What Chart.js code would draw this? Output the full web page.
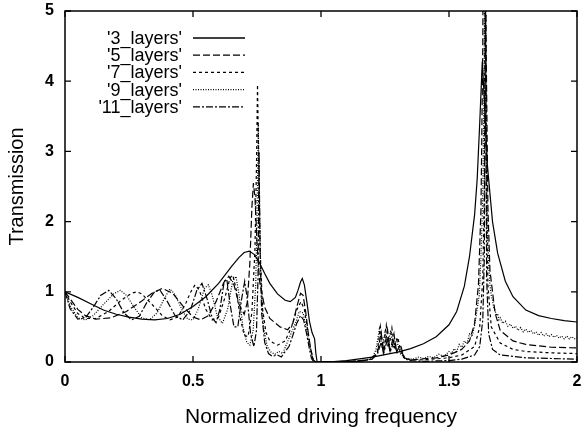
<!DOCTYPE html>
<html>
<head>
<meta charset="utf-8">
<script src="https://cdn.jsdelivr.net/npm/chart.js@4.4.1/dist/chart.umd.min.js"></script>
<style>
  html, body { margin: 0; padding: 0; background: #fff; }
  #wrap { width: 582px; height: 435px; }
</style>
</head>
<body>
<div id="wrap"><canvas id="transmissionChart"></canvas></div>
<script>
// tick positions for both axes
const xTicks = [0, 0.5, 1, 1.5, 2];
const yTicks = [0, 1, 2, 3, 4, 5];

const seriesNames = ["'3_layers'", "'5_layers'", "'7_layers'", "'9_layers'", "'11_layers'"];

// [frequency, transmission]
const layers3 = [[0,1.0],[0.05,0.92],[0.1,0.83],[0.15,0.74],[0.2,0.68],[0.25,0.64],[0.3,0.61],[0.35,0.60],[0.4,0.62],[0.45,0.68],[0.5,0.79],[0.55,0.93],[0.6,1.12],[0.65,1.36],[0.68,1.49],[0.7,1.56],[0.72,1.58],[0.74,1.53],[0.76,1.41],[0.78,1.26],[0.8,1.12],[0.83,0.97],[0.86,0.88],[0.88,0.86],[0.9,0.92],[0.91,1.02],[0.92,1.14],[0.927,1.19],[0.935,1.1],[0.945,0.85],[0.955,0.58],[0.965,0.42],[0.975,0.33],[0.98,0.12],[0.985,0.0],[1.0,0.0],[1.05,0.005],[1.1,0.02],[1.2,0.07],[1.3,0.14],[1.35,0.19],[1.4,0.26],[1.45,0.36],[1.5,0.53],[1.53,0.72],[1.56,1.08],[1.58,1.5],[1.6,2.1],[1.61,2.6],[1.62,3.4],[1.63,4.28],[1.64,3.6],[1.65,2.8],[1.67,2.0],[1.69,1.55],[1.72,1.15],[1.75,0.93],[1.8,0.74],[1.85,0.66],[1.9,0.62],[1.95,0.59],[2.0,0.57]];

const layers5 = [[0,1.0],[0.02,0.9],[0.05,0.75],[0.08,0.66],[0.12,0.61],[0.18,0.63],[0.24,0.72],[0.3,0.87],[0.34,0.98],[0.38,1.05],[0.42,0.98],[0.46,0.8],[0.5,0.64],[0.53,0.6],[0.56,0.66],[0.59,0.86],[0.62,1.13],[0.64,1.22],[0.66,1.1],[0.68,0.82],[0.7,0.68],[0.712,0.85],[0.722,1.4],[0.73,2.2],[0.736,2.55],[0.742,2.35],[0.75,1.7],[0.76,1.15],[0.78,0.78],[0.8,0.62],[0.84,0.5],[0.87,0.46],[0.89,0.55],[0.905,0.78],[0.92,0.98],[0.93,0.95],[0.94,0.72],[0.95,0.42],[0.96,0.18],[0.97,0.03],[0.98,0.0],[1.15,0.01],[1.2,0.04],[1.22,0.12],[1.235,0.42],[1.245,0.14],[1.26,0.46],[1.27,0.16],[1.285,0.4],[1.295,0.14],[1.31,0.25],[1.325,0.06],[1.35,0.03],[1.45,0.06],[1.5,0.1],[1.55,0.18],[1.58,0.3],[1.6,0.55],[1.615,1.1],[1.625,2.2],[1.632,4.5],[1.638,10],[1.645,4.5],[1.652,2.2],[1.66,1.3],[1.68,0.7],[1.7,0.45],[1.75,0.3],[1.8,0.25],[1.9,0.21],[2.0,0.2]];

const layers7 = [[0,1.0],[0.02,0.86],[0.05,0.69],[0.08,0.62],[0.12,0.62],[0.17,0.72],[0.22,0.88],[0.26,0.98],[0.28,1.0],[0.3,0.97],[0.34,0.82],[0.38,0.66],[0.41,0.6],[0.44,0.64],[0.47,0.82],[0.49,0.99],[0.508,1.1],[0.525,1.02],[0.55,0.75],[0.575,0.6],[0.6,0.64],[0.625,0.92],[0.645,1.2],[0.655,1.24],[0.668,1.05],[0.685,0.62],[0.7,0.38],[0.715,0.36],[0.73,0.7],[0.742,1.6],[0.748,2.8],[0.752,3.95],[0.756,3.0],[0.762,1.6],[0.772,0.75],[0.785,0.42],[0.8,0.3],[0.83,0.24],[0.86,0.3],[0.885,0.5],[0.905,0.74],[0.922,0.86],[0.935,0.75],[0.948,0.45],[0.958,0.22],[0.968,0.05],[0.978,0.0],[1.15,0.01],[1.2,0.04],[1.22,0.15],[1.232,0.5],[1.242,0.18],[1.255,0.52],[1.265,0.2],[1.277,0.48],[1.288,0.18],[1.3,0.35],[1.315,0.1],[1.33,0.04],[1.4,0.03],[1.5,0.06],[1.55,0.1],[1.6,0.22],[1.62,0.5],[1.632,1.2],[1.638,2.5],[1.642,5.8],[1.646,2.5],[1.652,1.1],[1.665,0.5],[1.7,0.27],[1.75,0.18],[1.8,0.15],[1.9,0.13],[2.0,0.12]];

const layers9 = [[0,1.0],[0.02,0.8],[0.05,0.63],[0.08,0.6],[0.11,0.66],[0.15,0.82],[0.19,0.97],[0.216,1.02],[0.24,0.95],[0.27,0.78],[0.3,0.63],[0.33,0.6],[0.36,0.7],[0.39,0.92],[0.41,1.04],[0.43,0.96],[0.46,0.72],[0.48,0.61],[0.5,0.6],[0.52,0.75],[0.545,1.05],[0.56,1.1],[0.575,0.95],[0.595,0.65],[0.615,0.55],[0.635,0.75],[0.655,1.15],[0.668,1.22],[0.68,0.95],[0.695,0.5],[0.71,0.28],[0.722,0.24],[0.735,0.45],[0.745,1.1],[0.75,2.0],[0.755,3.4],[0.759,2.4],[0.765,1.2],[0.775,0.5],[0.79,0.22],[0.805,0.14],[0.82,0.11],[0.835,0.15],[0.85,0.12],[0.865,0.25],[0.88,0.38],[0.9,0.55],[0.915,0.72],[0.93,0.7],[0.942,0.48],[0.952,0.3],[0.962,0.12],[0.972,0.0],[1.15,0.01],[1.2,0.05],[1.215,0.18],[1.228,0.47],[1.238,0.2],[1.25,0.42],[1.26,0.22],[1.272,0.45],[1.282,0.2],[1.295,0.32],[1.31,0.12],[1.33,0.05],[1.36,0.04],[1.38,0.07],[1.4,0.05],[1.42,0.08],[1.44,0.06],[1.46,0.11],[1.48,0.08],[1.5,0.15],[1.51,0.12],[1.52,0.19],[1.53,0.15],[1.54,0.25],[1.55,0.21],[1.56,0.3],[1.57,0.26],[1.58,0.4],[1.59,0.36],[1.6,0.52],[1.61,0.75],[1.618,0.95],[1.625,1.5],[1.632,2.4],[1.637,4.0],[1.641,6.5],[1.645,3.5],[1.65,1.9],[1.655,1.4],[1.66,1.1],[1.665,0.95],[1.67,0.88],[1.675,0.76],[1.68,0.74],[1.685,0.66],[1.69,0.69],[1.695,0.6],[1.7,0.63],[1.71,0.55],[1.72,0.58],[1.73,0.51],[1.74,0.54],[1.75,0.48],[1.76,0.51],[1.77,0.45],[1.78,0.49],[1.79,0.43],[1.8,0.47],[1.81,0.42],[1.82,0.45],[1.83,0.4],[1.84,0.43],[1.85,0.38],[1.86,0.42],[1.87,0.37],[1.88,0.4],[1.89,0.36],[1.9,0.39],[1.91,0.35],[1.92,0.38],[1.93,0.34],[1.94,0.37],[1.95,0.33],[1.96,0.37],[1.97,0.33],[1.98,0.36],[1.99,0.33],[2.0,0.35]];

const layers11 = [[0,1.0],[0.02,0.76],[0.05,0.61],[0.08,0.63],[0.11,0.78],[0.14,0.95],[0.171,1.02],[0.2,0.9],[0.23,0.7],[0.26,0.6],[0.29,0.65],[0.32,0.85],[0.35,1.0],[0.37,1.03],[0.4,0.86],[0.43,0.66],[0.46,0.6],[0.49,0.74],[0.515,1.02],[0.535,1.12],[0.555,0.9],[0.575,0.63],[0.59,0.56],[0.605,0.75],[0.622,1.15],[0.632,1.18],[0.645,0.82],[0.66,0.5],[0.675,0.5],[0.69,0.9],[0.702,1.15],[0.712,0.9],[0.725,0.4],[0.738,0.22],[0.748,0.45],[0.754,1.2],[0.758,3.0],[0.762,1.6],[0.768,0.7],[0.78,0.28],[0.795,0.12],[0.81,0.08],[0.83,0.1],[0.845,0.07],[0.86,0.15],[0.875,0.22],[0.89,0.38],[0.905,0.55],[0.92,0.66],[0.932,0.6],[0.944,0.4],[0.954,0.2],[0.963,0.05],[0.972,0.0],[1.12,0.01],[1.18,0.03],[1.2,0.07],[1.22,0.11],[1.235,0.28],[1.245,0.13],[1.26,0.33],[1.27,0.14],[1.285,0.3],[1.297,0.13],[1.31,0.18],[1.325,0.07],[1.34,0.02],[1.4,0.01],[1.5,0.02],[1.55,0.04],[1.6,0.1],[1.62,0.22],[1.632,0.6],[1.638,1.5],[1.642,5.5],[1.647,1.2],[1.655,0.4],[1.67,0.18],[1.7,0.1],[1.8,0.06],[1.9,0.05],[2.0,0.04]];

const seriesData = [layers3, layers5, layers7, layers9, layers11];
const seriesDash = [[], [7, 3], [3, 3], [1, 1.5], [7, 2, 2, 2]];

const FONT = "'Liberation Sans', Arial, Helvetica, sans-serif";

// gnuplot style frame, inward ticks and key
const framePlugin = {
  id: 'frame',
  afterDatasetsDraw(chart) {
    const { ctx, chartArea: a, scales } = chart;
    ctx.save();
    ctx.strokeStyle = '#000';
    ctx.lineWidth = 1.5;
    ctx.setLineDash([]);
    ctx.strokeRect(a.left, a.top, a.right - a.left, a.bottom - a.top);
    ctx.lineWidth = 1.3;
    const len = 6;
    ctx.beginPath();
    xTicks.forEach(v => {
      const px = scales.x.getPixelForValue(v);
      ctx.moveTo(px, a.bottom); ctx.lineTo(px, a.bottom - len);
      ctx.moveTo(px, a.top); ctx.lineTo(px, a.top + len);
    });
    yTicks.forEach(v => {
      const py = scales.y.getPixelForValue(v);
      ctx.moveTo(a.left, py); ctx.lineTo(a.left + len, py);
      ctx.moveTo(a.right, py); ctx.lineTo(a.right - len, py);
    });
    ctx.stroke();

    // key
    ctx.font = '18px ' + FONT;
    ctx.fillStyle = '#000';
    ctx.textAlign = 'right';
    ctx.textBaseline = 'middle';
    chart.data.datasets.forEach((ds, i) => {
      const y = 38 + i * 17.2;
      ctx.fillText(ds.label, 182, y + 1);
      ctx.beginPath();
      ctx.lineWidth = 1.3;
      ctx.setLineDash(ds.borderDash);
      ctx.moveTo(193, y);
      ctx.lineTo(245, y);
      ctx.stroke();
    });
    ctx.restore();
  }
};

new Chart(document.getElementById('transmissionChart'), {
  type: 'scatter',
  data: {
    datasets: seriesNames.map((name, i) => ({
      label: name,
      data: seriesData[i].map(p => ({ x: p[0], y: p[1] })),
      showLine: true,
      borderColor: '#000',
      backgroundColor: 'transparent',
      borderWidth: 1.2,
      borderDash: seriesDash[i],
      pointRadius: 0,
      tension: 0
    }))
  },
  options: {
    responsive: true,
    maintainAspectRatio: false,
    animation: false,
    layout: { padding: { left: 0, right: 5, top: 11, bottom: 0 } },
    plugins: {
      legend: { display: false },
      tooltip: { enabled: false }
    },
    scales: {
      x: {
        type: 'linear',
        min: 0,
        max: 2,
        afterBuildTicks: s => { s.ticks = xTicks.map(v => ({ value: v })); },
        afterFit: s => { s.height = 73; s.paddingLeft = 0; s.paddingRight = 0; },
        grid: { display: false, drawTicks: false },
        border: { display: false },
        ticks: {
          color: '#000',
          padding: 10,
          maxRotation: 0,
          font: { family: FONT, size: 16, weight: 'bold' },
          callback: v => String(v)
        },
        title: {
          display: true,
          text: 'Normalized driving frequency',
          color: '#000',
          font: { family: FONT, size: 21 },
          padding: { top: 0, bottom: 5 }
        }
      },
      y: {
        type: 'linear',
        min: 0,
        max: 5,
        afterBuildTicks: s => { s.ticks = yTicks.map(v => ({ value: v })); },
        afterFit: s => { s.width = 65; s.paddingTop = 0; s.paddingBottom = 0; },
        grid: { display: false, drawTicks: false },
        border: { display: false },
        ticks: {
          color: '#000',
          padding: 11,
          font: { family: FONT, size: 16, weight: 'bold' },
          callback: v => String(v)
        },
        title: {
          display: true,
          text: 'Transmission',
          color: '#000',
          font: { family: FONT, size: 20 },
          padding: { top: 5, bottom: 0 }
        }
      }
    }
  },
  plugins: [framePlugin]
});
</script>
</body>
</html>
